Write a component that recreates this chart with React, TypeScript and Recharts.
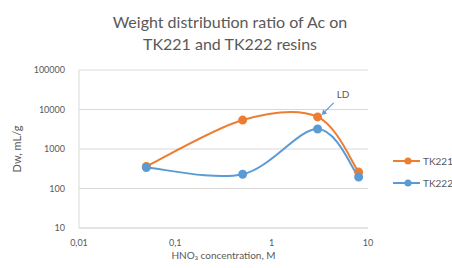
import React from "react";
import {
  LineChart,
  Line,
  XAxis,
  YAxis,
  CartesianGrid,
  ReferenceDot,
} from "recharts";

// HNO3 concentration, M
const concentrations = [0.05, 0.5, 3, 8];
// Dw, mL/g
const tk221 = [360, 5400, 6500, 260];
const tk222 = [340, 230, 3200, 195];

const xTicks = [0.01, 0.1, 1, 10];
const yTicks = [10, 100, 1000, 10000, 100000];

const ORANGE = "#ED7D31";
const BLUE = "#5B9BD5";
const TEXT = "#595959";
const FONT = "Lato, 'Open Sans', sans-serif";

const data = concentrations.map((c, i) => ({
  c,
  TK221: tk221[i],
  TK222: tk222[i],
}));

// Excel-style smoothed line (Catmull-Rom, tension 1/6)
const smoothCurve = (context: any) => {
  let pts: [number, number][] = [];
  return {
    areaStart() {},
    areaEnd() {},
    lineStart() {
      pts = [];
    },
    point(x: number, y: number) {
      pts.push([+x, +y]);
    },
    lineEnd() {
      if (!pts.length) return;
      context.moveTo(pts[0][0], pts[0][1]);
      for (let i = 0; i < pts.length - 1; i++) {
        const p0 = pts[Math.max(i - 1, 0)];
        const p1 = pts[i];
        const p2 = pts[i + 1];
        const p3 = pts[Math.min(i + 2, pts.length - 1)];
        context.bezierCurveTo(
          p1[0] + (p2[0] - p0[0]) / 6,
          p1[1] + (p2[1] - p0[1]) / 6,
          p2[0] - (p3[0] - p1[0]) / 6,
          p2[1] - (p3[1] - p1[1]) / 6,
          p2[0],
          p2[1]
        );
      }
    },
  };
};

const legendItems = [
  { name: "TK221", color: ORANGE },
  { name: "TK222", color: BLUE },
];

// "LD" callout with arrow pointing to the TK221 point at 3 M
const LDMarker = (props: any) => {
  const { cx, cy } = props;
  return (
    <g>
      <line x1={cx + 16} y1={cy - 14} x2={cx + 7} y2={cy - 5} stroke={BLUE} strokeWidth={1.2} />
      <path d={`M${cx + 4},${cy - 2} l1.5,-5.5 l4,4 z`} fill={BLUE} />
      <text x={cx + 19} y={cy - 19} fontSize={10} fill={TEXT} fontFamily={FONT}>
        LD
      </text>
    </g>
  );
};

const App = () => {
  return (
    <div style={{ position: "fixed", left: 0, top: 0, width: 452, height: 268, background: "#fff", overflow: "hidden" }}>
      <div
        style={{
          position: "absolute",
          left: 0,
          width: 460,
          top: 11,
          textAlign: "center",
          fontFamily: FONT,
          fontSize: 16,
          lineHeight: "22px",
          color: TEXT,
        }}
      >
        Weight distribution ratio of Ac on
        <br />
        TK221 and TK222 resins
      </div>
      <LineChart
        width={452}
        height={268}
        data={data}
        margin={{ top: 70, right: 84, bottom: 12, left: 19 }}
      >
        <CartesianGrid horizontal vertical={false} stroke="#d9d9d9" />
        <XAxis
          dataKey="c"
          type="number"
          scale="log"
          domain={[0.01, 10]}
          ticks={xTicks}
          allowDataOverflow
          tickFormatter={(v) => String(v).replace(".", ",")}
          tick={{ fontSize: 9, fill: TEXT, fontFamily: FONT }}
          tickLine={false}
          axisLine={{ stroke: "#d9d9d9" }}
          height={28}
          tickMargin={6}
          label={{
            value: "HNO₃ concentration, M",
            position: "insideBottom",
            offset: -3,
            fontSize: 10,
            fill: TEXT,
            fontFamily: FONT,
          }}
        />
        <YAxis
          type="number"
          scale="log"
          domain={[10, 100000]}
          ticks={yTicks}
          allowDataOverflow
          tick={{ fontSize: 9, fill: TEXT, fontFamily: FONT }}
          tickLine={false}
          axisLine={{ stroke: "#d9d9d9" }}
          width={60}
          tickMargin={8}
          label={{
            value: "Dw, mL/g",
            angle: -90,
            position: "insideLeft",
            offset: -2,
            fontSize: 11,
            fill: TEXT,
            fontFamily: FONT,
            style: { textAnchor: "middle" },
          }}
        />
        <Line
          type={smoothCurve as any}
          dataKey="TK221"
          stroke={ORANGE}
          strokeWidth={2}
          dot={{ r: 3.5, fill: ORANGE, stroke: ORANGE }}
          isAnimationActive={false}
        />
        <Line
          type={smoothCurve as any}
          dataKey="TK222"
          stroke={BLUE}
          strokeWidth={2}
          dot={{ r: 3.5, fill: BLUE, stroke: BLUE }}
          isAnimationActive={false}
        />
        <ReferenceDot x={3} y={6500} shape={<LDMarker />} />
      </LineChart>
      <div style={{ position: "absolute", left: 393, top: 150, fontFamily: FONT, fontSize: 10, color: TEXT }}>
        {legendItems.map((s) => (
          <div key={s.name} style={{ display: "flex", alignItems: "center", height: 22 }}>
            <svg width={28} height={10}>
              <line x1={0} y1={5} x2={27} y2={5} stroke={s.color} strokeWidth={2} />
              <circle cx={15} cy={5} r={3.5} fill={s.color} />
            </svg>
            <span style={{ marginLeft: 2 }}>{s.name}</span>
          </div>
        ))}
      </div>
    </div>
  );
};

export default App;
